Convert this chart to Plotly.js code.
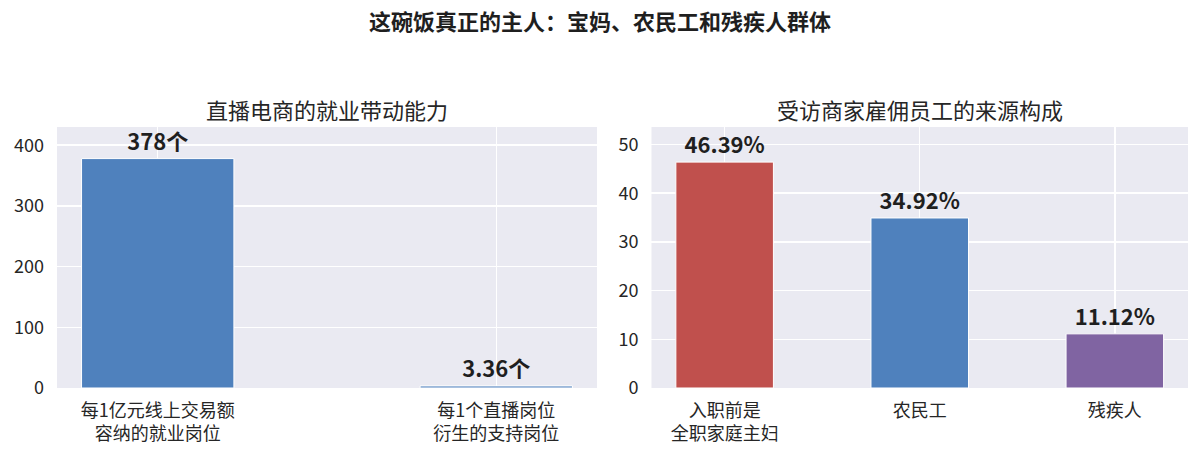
<!DOCTYPE html>
<html>
<head>
<meta charset="utf-8">
<script src="https://cdn.plot.ly/plotly-3.0.1.min.js"></script>
<style>
  html, body { margin: 0; padding: 0; background: #fff; }
  #chart { width: 1200px; height: 453px; }
</style>
</head>
<body>
<div id="chart"></div>
<script>
// left panel: jobs driven by live-stream e-commerce
let leftCats = ['每1亿元线上交易额<br>容纳的就业岗位', '每1个直播岗位<br>衍生的支持岗位'];
let leftValues = [378, 3.36];
let leftLabels = ['378个', '3.36个'];

// right panel: where the hired staff came from
let rightCats = ['入职前是<br>全职家庭主妇', '农民工', '残疾人'];
let rightValues = [46.39, 34.92, 11.12];
let rightLabels = ['46.39%', '34.92%', '11.12%'];
let rightColors = ['#c0504d', '#4f81bd', '#8064a2'];

let font = '"Noto Sans CJK SC", "Noto Sans", sans-serif';
let textColor = '#262626';

let traceLeft = {
  type: 'bar',
  x: leftCats,
  y: leftValues,
  width: 0.45,
  marker: {color: '#4f81bd', line: {color: '#ffffff', width: 1}},
  text: leftLabels,
  textposition: 'outside',
  cliponaxis: false,
  textfont: {family: font, size: 22, color: '#1f1f1f', weight: 'bold'},
  hoverinfo: 'x+y',
  xaxis: 'x',
  yaxis: 'y'
};

let traceRight = {
  type: 'bar',
  x: rightCats,
  y: rightValues,
  width: 0.5,
  marker: {color: rightColors, line: {color: '#ffffff', width: 1}},
  text: rightLabels,
  textposition: 'outside',
  cliponaxis: false,
  textfont: {family: font, size: 22, color: '#1f1f1f', weight: 'bold'},
  hoverinfo: 'x+y',
  xaxis: 'x2',
  yaxis: 'y2'
};

let yDomain = [0.1435, 0.7196];

function xAxis(domain, range, anchor) {
  return {
    domain: domain,
    range: range,
    anchor: anchor,
    type: 'category',
    showgrid: true,
    gridcolor: '#ffffff',
    gridwidth: 1.5,
    zeroline: false,
    showline: false,
    ticks: '',
    ticklabelstandoff: 10,
    tickfont: {family: font, size: 18, color: textColor},
    fixedrange: true
  };
}

function yAxis(range, dtick, anchor) {
  return {
    domain: yDomain,
    range: range,
    anchor: anchor,
    dtick: dtick,
    showgrid: true,
    gridcolor: '#ffffff',
    gridwidth: 1.5,
    zeroline: false,
    showline: false,
    ticks: '',
    ticklabelstandoff: 12,
    tickfont: {family: font, size: 18, color: textColor},
    fixedrange: true
  };
}

let layout = {
  width: 1200,
  height: 453,
  margin: {l: 0, r: 0, t: 0, b: 0},
  paper_bgcolor: '#ffffff',
  plot_bgcolor: '#eaeaf2',
  showlegend: false,
  bargap: 0,
  title: {
    text: '这碗饭真正的主人：宝妈、农民工和残疾人群体',
    x: 0.5,
    xanchor: 'center',
    y: 1 - 22 / 453,
    yanchor: 'middle',
    font: {family: font, size: 22, color: '#1f1f1f', weight: 'bold'}
  },
  xaxis: xAxis([0.0475, 0.4975], [-0.2975, 1.2975], 'y'),
  yaxis: yAxis([0, 430], 100, 'x'),
  xaxis2: xAxis([0.5429, 0.99], [-0.375, 2.375], 'y2'),
  yaxis2: yAxis([0, 53.6], 10, 'x2'),
  annotations: [
    {
      text: '直播电商的就业带动能力',
      xref: 'paper', yref: 'paper',
      x: 0.2725, y: 1 - 109 / 453,
      xanchor: 'center', yanchor: 'middle',
      showarrow: false,
      font: {family: font, size: 22, color: textColor}
    },
    {
      text: '受访商家雇佣员工的来源构成',
      xref: 'paper', yref: 'paper',
      x: 0.7665, y: 1 - 109 / 453,
      xanchor: 'center', yanchor: 'middle',
      showarrow: false,
      font: {family: font, size: 22, color: textColor}
    }
  ]
};

Plotly.newPlot('chart', [traceLeft, traceRight], layout, {displayModeBar: false, staticPlot: true});
</script>
</body>
</html>
